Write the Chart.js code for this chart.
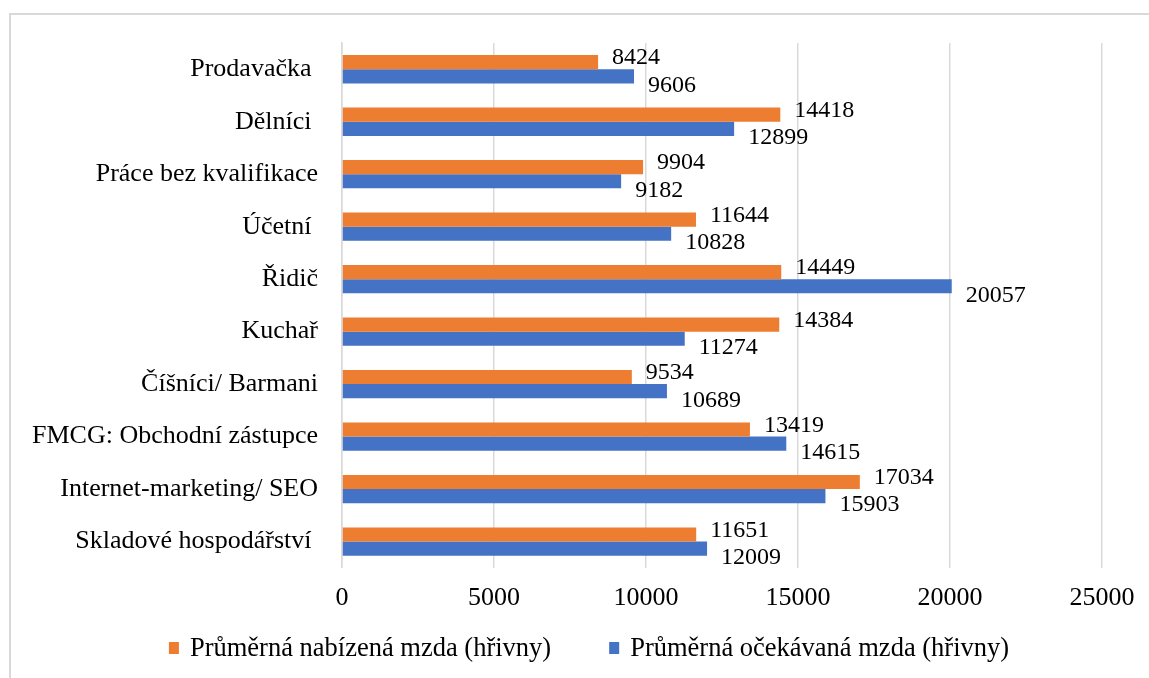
<!DOCTYPE html>
<html>
<head>
<meta charset="utf-8">
<script src="https://cdn.jsdelivr.net/npm/chart.js@4"></script>
<style>
  html, body { margin: 0; padding: 0; background: #fff; overflow: hidden; }
  #frame {
    position: absolute; left: 9px; top: 13px;
    width: 1170px; height: 680px;
    border: 2px solid #d9d9d9; box-sizing: border-box;
  }
  #wrap { position: absolute; left: 9px; top: 13px; width: 1160px; height: 665px; }
</style>
</head>
<body>
<div id="frame"></div>
<div id="wrap"><canvas id="wageChart"></canvas></div>
<script>
const categories = [
    "Prodavačka ", "Dělníci ", "Práce bez kvalifikace", "Účetní ", "Řidič",
    "Kuchař", "Číšníci/ Barmani", "FMCG: Obchodní zástupce",
    "Internet-marketing/ SEO", "Skladové hospodářství "
];
const offeredWage = [8424, 14418, 9904, 11644, 14449, 14384, 9534, 13419, 17034, 11651];
const expectedWage = [9606, 12899, 9182, 10828, 20057, 11274, 10689, 14615, 15903, 12009];
const xTicks = [0, 5000, 10000, 15000, 20000, 25000];

const serif = "'Liberation Serif', 'Times New Roman', serif";

// draws the value next to the end of each bar
const valueLabels = {
    id: "valueLabels",
    afterDatasetsDraw(chart) {
        const ctx = chart.ctx;
        ctx.save();
        ctx.font = "24px " + serif;
        ctx.fillStyle = "#000";
        ctx.textAlign = "left";
        ctx.textBaseline = "middle";
        chart.data.datasets.forEach((ds, i) => {
            const meta = chart.getDatasetMeta(i);
            const dy = i === 0 ? -4 : 9;
            meta.data.forEach((bar, j) => {
                ctx.fillText(String(ds.data[j]), bar.x + 14, bar.y + dy);
            });
        });
        ctx.restore();
    }
};

// legend drawn by hand so the gap between the two items can be wide like Excel's
const bottomLegend = {
    id: "bottomLegend",
    afterDraw(chart) {
        const ctx = chart.ctx;
        ctx.save();
        ctx.font = "26.5px " + serif;
        ctx.textBaseline = "middle";
        const boxW = 10, boxH = 12, textGap = 11, itemGap = 58;
        const items = chart.data.datasets.map(ds => ({
            text: ds.label, color: ds.backgroundColor,
            w: boxW + textGap + ctx.measureText(ds.label).width
        }));
        const total = items.reduce((s, it) => s + it.w, 0) + itemGap * (items.length - 1);
        let x = chart.width / 2 - total / 2;
        const y = 635;
        items.forEach(it => {
            ctx.fillStyle = it.color;
            ctx.fillRect(x, y - boxH / 2, boxW, boxH);
            ctx.fillStyle = "#000";
            ctx.fillText(it.text, x + boxW + textGap, y + 1);
            x += it.w + itemGap;
        });
        ctx.restore();
    }
};

const ctx = document.getElementById("wageChart").getContext("2d");
const wageChart = new Chart(ctx, {
    type: "bar",
    data: {
        labels: categories,
        datasets: [
            {
                label: "Průměrná nabízená mzda (hřivny)",
                data: offeredWage,
                backgroundColor: "#ED7D31",
                categoryPercentage: 0.54,
                barPercentage: 1.0
            },
            {
                label: "Průměrná očekávaná mzda (hřivny)",
                data: expectedWage,
                backgroundColor: "#4472C4",
                categoryPercentage: 0.54,
                barPercentage: 1.0
            }
        ]
    },
    options: {
        indexAxis: "y",
        responsive: true,
        maintainAspectRatio: false,
        animation: false,
        layout: { padding: { top: 30, right: 67, bottom: 49, left: 0 } },
        plugins: {
            legend: { display: false },
            tooltip: { enabled: false }
        },
        scales: {
            x: {
                min: 0,
                max: 25000,
                afterBuildTicks(axis) {
                    axis.ticks = xTicks.map(v => ({ value: v }));
                },
                grid: { color: "#d9d9d9", lineWidth: 1.5, drawTicks: false },
                border: { display: false },
                ticks: {
                    font: { family: serif, size: 26 },
                    color: "#000",
                    padding: 15,
                    callback: v => String(v)
                }
            },
            y: {
                grid: { display: false, drawTicks: false },
                border: { display: true, color: "#d9d9d9", width: 1.5 },
                ticks: {
                    font: { family: serif, size: 26 },
                    color: "#000",
                    padding: 24
                },
                afterFit(axis) {
                    axis.width = 333;
                    axis.paddingTop = 0;
                    axis.paddingBottom = 0;
                }
            }
        }
    },
    plugins: [valueLabels, bottomLegend]
});
</script>
</body>
</html>
